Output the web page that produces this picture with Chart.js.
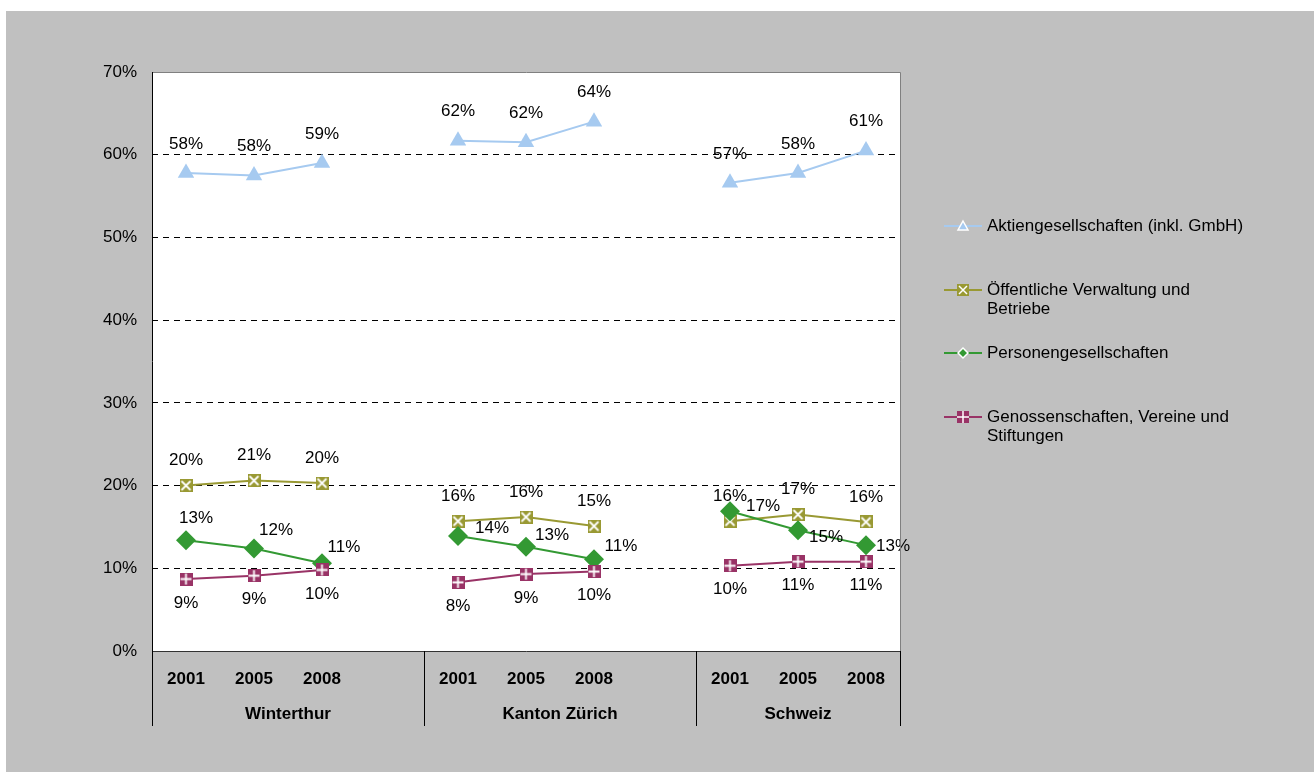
<!DOCTYPE html>
<html>
<head>
<meta charset="utf-8">
<script src="https://cdn.jsdelivr.net/npm/chart.js@4/dist/chart.umd.min.js"></script>
<style>
  html, body { margin: 0; padding: 0; background: #ffffff; }
  #wrap { position: relative; width: 1314px; height: 772px; }
</style>
</head>
<body>
<div id="wrap"><canvas id="c" width="1314" height="772"></canvas></div>
<script>
// ---------- DATA ----------
const years = ['2001', '2005', '2008', '', '2001', '2005', '2008', '', '2001', '2005', '2008'];
const groupNames = ['Winterthur', 'Kanton Zürich', 'Schweiz'];
const groupStart = [0, 4, 8];
const groupEnd = [4, 8, 11];
const seriesNames = [
  'Aktiengesellschaften (inkl. GmbH)',
  'Öffentliche Verwaltung und Betriebe',
  'Personengesellschaften',
  'Genossenschaften, Vereine und Stiftungen'
];
const aktien = [57.8, 57.5, 59.0, null, 61.7, 61.5, 64.0, null, 56.6, 57.8, 60.5];
const oeffentlich = [20.0, 20.6, 20.3, null, 15.7, 16.2, 15.1, null, 15.7, 16.5, 15.6];
const personen = [13.4, 12.4, 10.6, null, 13.9, 12.6, 11.1, null, 16.9, 14.6, 12.8];
const genossen = [8.7, 9.1, 9.8, null, 8.3, 9.3, 9.6, null, 10.3, 10.8, 10.8];
const yTicks = [0, 10, 20, 30, 40, 50, 60, 70];

// ---------- STYLE ----------
const FONT = '"Liberation Sans", Arial, sans-serif';
const colAktien = '#A6CAF0';
const colOeff = '#999933';
const colPers = '#339933';
const colGen = '#993366';

function makeSquare(fill, kind) {
  const s = 13;
  const c = document.createElement('canvas');
  c.width = s; c.height = s;
  const g = c.getContext('2d');
  g.fillStyle = fill;
  g.fillRect(0, 0, s, s);
  g.strokeStyle = '#ffffff';
  g.lineWidth = 1.8;
  g.beginPath();
  if (kind === 'x') {
    g.moveTo(2, 2); g.lineTo(s - 2, s - 2);
    g.moveTo(s - 2, 2); g.lineTo(2, s - 2);
  } else {
    g.moveTo(s / 2, 1); g.lineTo(s / 2, s - 1);
    g.moveTo(1, s / 2); g.lineTo(s - 1, s / 2);
  }
  g.stroke();
  return c;
}
const markOeff = makeSquare(colOeff, 'x');
const markGen = makeSquare(colGen, 'plus');

// label offsets (dx, dy) relative to point
const labelOffsets = [
  [[0, -29]],
  [[0, -25]],
  [[10, -22], [22, -18], [22, -16], null, [34, -8], [26, -11], [27, -13], null, [33, -5], [28, 7], [27, 1]],
  [[0, 24]]
];

const bgPlugin = {
  id: 'bg',
  beforeDraw(chart) {
    const ctx = chart.ctx, W = chart.width, H = chart.height, a = chart.chartArea;
    ctx.save();
    ctx.fillStyle = '#ffffff';
    ctx.fillRect(0, 0, W, H);
    ctx.fillStyle = '#C0C0C0';
    ctx.fillRect(6, 11, W - 6, H - 11);
    ctx.fillStyle = '#ffffff';
    ctx.fillRect(a.left, a.top, a.right - a.left, a.bottom - a.top);
    ctx.restore();
  },
  afterDraw(chart) {
    const ctx = chart.ctx, a = chart.chartArea, x = chart.scales.x;
    ctx.save();
    // plot border
    ctx.lineWidth = 1;
    ctx.strokeStyle = '#808080';
    ctx.beginPath();
    ctx.moveTo(a.left, a.top + 0.5); ctx.lineTo(a.right + 0.5, a.top + 0.5); ctx.lineTo(a.right + 0.5, a.bottom);
    ctx.stroke();
    ctx.strokeStyle = '#000000';
    ctx.beginPath();
    ctx.moveTo(a.left + 0.5, a.top); ctx.lineTo(a.left + 0.5, a.bottom);
    ctx.stroke();
    ctx.strokeStyle = '#333333';
    ctx.beginPath();
    ctx.moveTo(a.left, a.bottom + 0.5); ctx.lineTo(a.right + 1, a.bottom + 0.5);
    ctx.stroke();
    // group separators and labels
    const step = x.getPixelForValue(1) - x.getPixelForValue(0);
    const bound = i => x.getPixelForValue(i) - step / 2;
    ctx.strokeStyle = '#000000';
    const bs = new Set();
    groupStart.forEach(v => bs.add(v)); groupEnd.forEach(v => bs.add(v));
    bs.forEach(i => {
      const px = Math.round(bound(i)) + 0.5;
      ctx.beginPath();
      ctx.moveTo(px, a.bottom); ctx.lineTo(px, a.bottom + 75);
      ctx.stroke();
    });
    ctx.fillStyle = '#000000';
    ctx.font = 'bold 17px ' + FONT;
    ctx.textAlign = 'center';
    ctx.textBaseline = 'middle';
    groupNames.forEach((n, k) => {
      const cx = (bound(groupStart[k]) + bound(groupEnd[k])) / 2;
      ctx.fillText(n, cx, a.bottom + 63);
    });
    // legend
    const lx0 = 944, lx1 = 982, mx = 963, tx = 987;
    const items = [
      {lines: ['Aktiengesellschaften (inkl. GmbH)'], y: 226, col: colAktien, m: 'tri'},
      {lines: ['Öffentliche Verwaltung und', 'Betriebe'], y: 290, col: colOeff, m: 'x'},
      {lines: ['Personengesellschaften'], y: 353, col: colPers, m: 'dia'},
      {lines: ['Genossenschaften, Vereine und', 'Stiftungen'], y: 417, col: colGen, m: 'plus'}
    ];
    ctx.font = '17px ' + FONT;
    ctx.textAlign = 'left';
    items.forEach(it => {
      ctx.strokeStyle = it.col;
      ctx.lineWidth = 2;
      ctx.beginPath(); ctx.moveTo(lx0, it.y); ctx.lineTo(lx1, it.y); ctx.stroke();
      const y = it.y;
      if (it.m === 'tri') {
        ctx.fillStyle = colAktien; ctx.strokeStyle = '#ffffff'; ctx.lineWidth = 1.5;
        ctx.beginPath(); ctx.moveTo(mx, y - 5); ctx.lineTo(mx + 5, y + 4); ctx.lineTo(mx - 5, y + 4); ctx.closePath();
        ctx.fill(); ctx.stroke();
      } else if (it.m === 'dia') {
        ctx.fillStyle = colPers; ctx.strokeStyle = '#ffffff'; ctx.lineWidth = 1.5;
        ctx.beginPath(); ctx.moveTo(mx, y - 5); ctx.lineTo(mx + 5, y); ctx.lineTo(mx, y + 5); ctx.lineTo(mx - 5, y); ctx.closePath();
        ctx.fill(); ctx.stroke();
      } else {
        ctx.fillStyle = it.col;
        ctx.fillRect(mx - 6, y - 6, 12, 12);
        ctx.strokeStyle = '#ffffff'; ctx.lineWidth = 1.5;
        ctx.beginPath();
        if (it.m === 'x') {
          ctx.moveTo(mx - 4, y - 4); ctx.lineTo(mx + 4, y + 4);
          ctx.moveTo(mx + 4, y - 4); ctx.lineTo(mx - 4, y + 4);
        } else {
          ctx.moveTo(mx, y - 6); ctx.lineTo(mx, y + 6);
          ctx.moveTo(mx - 6, y); ctx.lineTo(mx + 6, y);
        }
        ctx.stroke();
      }
      ctx.fillStyle = '#000000';
      it.lines.forEach((t, j) => ctx.fillText(t, tx, y + j * 19.5));
    });
    ctx.restore();
  },
  afterDatasetsDraw(chart) {
    const ctx = chart.ctx;
    ctx.save();
    ctx.font = '17px ' + FONT;
    ctx.fillStyle = '#000000';
    ctx.textAlign = 'center';
    ctx.textBaseline = 'middle';
    chart.data.datasets.forEach((ds, di) => {
      const meta = chart.getDatasetMeta(di);
      const offs = labelOffsets[di];
      ds.data.forEach((v, i) => {
        if (v === null) return;
        const p = meta.data[i];
        const o = offs.length > 1 ? offs[i] : offs[0];
        ctx.fillText(Math.round(v) + '%', p.x + o[0], p.y + o[1]);
      });
    });
    ctx.restore();
  }
};

new Chart(document.getElementById('c'), {
  type: 'line',
  data: {
    labels: years,
    datasets: [
      {label: seriesNames[0], data: aktien, borderColor: colAktien, backgroundColor: colAktien,
       pointStyle: 'triangle', pointRadius: 9.5, pointBorderWidth: 0, borderWidth: 2, order: 4},
      {label: seriesNames[1], data: oeffentlich, borderColor: colOeff, backgroundColor: colOeff,
       pointStyle: markOeff, borderWidth: 2, order: 3},
      {label: seriesNames[2], data: personen, borderColor: colPers, backgroundColor: colPers,
       pointStyle: 'rectRot', pointRadius: 10, pointBorderWidth: 0, borderWidth: 2, order: 2},
      {label: seriesNames[3], data: genossen, borderColor: colGen, backgroundColor: colGen,
       pointStyle: markGen, borderWidth: 2, order: 1}
    ]
  },
  options: {
    responsive: false,
    animation: false,
    spanGaps: false,
    layout: {padding: {left: 0, top: 72, right: 414, bottom: 0}},
    plugins: {legend: {display: false}, tooltip: {enabled: false}},
    elements: {line: {tension: 0}},
    scales: {
      x: {
        type: 'category',
        offset: true,
        grid: {display: false, drawTicks: false, offset: true},
        border: {display: false},
        ticks: {autoSkip: false, maxRotation: 0, padding: 18, color: '#000000',
                font: {family: FONT, size: 17, weight: 'bold'}},
        afterFit(s) { s.height = 121; }
      },
      y: {
        min: 0, max: 70,
        afterBuildTicks(s) { s.ticks = yTicks.map(v => ({value: v})); },
        grid: {
          drawTicks: false,
          color: c => (c.tick && (c.tick.value === 0 || c.tick.value === 70)) ? 'rgba(0,0,0,0)' : '#000000',
          lineWidth: 1
        },
        border: {display: false, dash: [6, 5]},
        ticks: {padding: 15, color: '#000000', font: {family: FONT, size: 17},
                callback: v => v + '%'},
        afterFit(s) { s.width = 152; }
      }
    }
  },
  plugins: [bgPlugin]
});
</script>
</body>
</html>
